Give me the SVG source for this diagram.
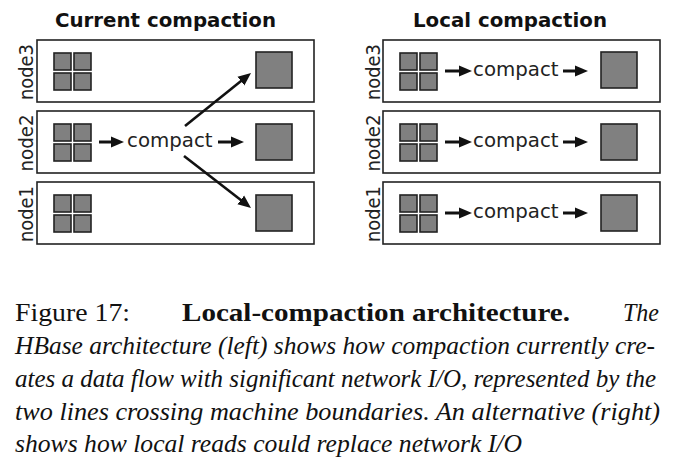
<svg xmlns="http://www.w3.org/2000/svg" width="673" height="470" viewBox="0 0 673 470">
<style>
.row{fill:#fff;stroke:#222;stroke-width:1.6}
.sq{fill:#808080;stroke:#222;stroke-width:1.6}
.lbl{font-family:"DejaVu Sans",sans-serif;font-size:20px;fill:#222;text-anchor:middle}
.title{font-family:"DejaVu Sans",sans-serif;font-weight:bold;font-size:19.8px;fill:#111}
.cmp{font-family:"DejaVu Sans",sans-serif;font-size:19.8px;fill:#222}
.arr{stroke:#111;stroke-width:3;fill:none;marker-end:url(#ah)}
.darr{stroke:#111;stroke-width:2.6;fill:none;marker-end:url(#ah)}
.cap{font-family:"Liberation Serif","Times New Roman",serif;font-size:25.5px;fill:#111}
.it{font-style:italic}
</style>
<defs>
<marker id="ah" markerUnits="userSpaceOnUse" markerWidth="13" markerHeight="12" viewBox="0 0 13 12" refX="5" refY="6" orient="auto">
<path d="M0,0.5 L13,6 L0,11.5 z" fill="#111"/>
</marker>
<g id="grid4">
<rect class="sq" x="0" y="0" width="17" height="17"/>
<rect class="sq" x="20" y="0" width="17" height="17"/>
<rect class="sq" x="0" y="20" width="17" height="17"/>
<rect class="sq" x="20" y="20" width="17" height="17"/>
</g>
</defs>
<rect width="673" height="470" fill="#fff"/>

<text class="title" x="55" y="27">Current compaction</text>
<text class="title" x="413" y="27">Local compaction</text>

<!-- Left panel -->
<g id="L-node3">
<rect class="row" x="37" y="40" width="277" height="62"/>
<text class="lbl" transform="translate(33,72) rotate(-90)" textLength="56" lengthAdjust="spacingAndGlyphs">node3</text>
<use href="#grid4" x="54" y="53"/>
<rect class="sq" x="256" y="52" width="36" height="36"/>
</g>
<g id="L-node2">
<rect class="row" x="37" y="111" width="277" height="62"/>
<text class="lbl" transform="translate(33,143) rotate(-90)" textLength="57" lengthAdjust="spacingAndGlyphs">node2</text>
<use href="#grid4" x="54" y="124"/>
<text class="cmp" x="127" y="147">compact</text>
<rect class="sq" x="256" y="124" width="36" height="36"/>
</g>
<g id="L-node1">
<rect class="row" x="37" y="182" width="277" height="62"/>
<text class="lbl" transform="translate(33,214) rotate(-90)" textLength="56" lengthAdjust="spacingAndGlyphs">node1</text>
<use href="#grid4" x="54" y="195"/>
<rect class="sq" x="256" y="195" width="36" height="36"/>
</g>

<!-- Right panel -->
<g id="R-node3">
<rect class="row" x="383" y="40" width="277" height="62"/>
<text class="lbl" transform="translate(380,72) rotate(-90)" textLength="56" lengthAdjust="spacingAndGlyphs">node3</text>
<use href="#grid4" x="400" y="53"/>
<text class="cmp" x="473" y="76">compact</text>
<rect class="sq" x="601" y="52" width="36" height="36"/>
</g>
<g id="R-node2">
<rect class="row" x="383" y="111" width="277" height="62"/>
<text class="lbl" transform="translate(380,143) rotate(-90)" textLength="57" lengthAdjust="spacingAndGlyphs">node2</text>
<use href="#grid4" x="400" y="124"/>
<text class="cmp" x="473" y="147">compact</text>
<rect class="sq" x="601" y="124" width="36" height="36"/>
</g>
<g id="R-node1">
<rect class="row" x="383" y="182" width="277" height="62"/>
<text class="lbl" transform="translate(380,214) rotate(-90)" textLength="56" lengthAdjust="spacingAndGlyphs">node1</text>
<use href="#grid4" x="400" y="195"/>
<text class="cmp" x="473" y="218">compact</text>
<rect class="sq" x="601" y="195" width="36" height="36"/>
</g>

<g id="connectors">
<line class="arr" x1="99" y1="142" x2="116" y2="142"/>
<line class="arr" x1="218" y1="142" x2="236" y2="142"/>
<line class="darr" x1="185" y1="126" x2="244.8" y2="78"/>
<line class="darr" x1="184" y1="156" x2="244.7" y2="203"/>
<line class="arr" x1="445" y1="71" x2="464" y2="71"/>
<line class="arr" x1="563" y1="71" x2="580" y2="71"/>
<line class="arr" x1="445" y1="142" x2="464" y2="142"/>
<line class="arr" x1="563" y1="142" x2="580" y2="142"/>
<line class="arr" x1="445" y1="213" x2="464" y2="213"/>
<line class="arr" x1="563" y1="213" x2="580" y2="213"/>
</g>

<!-- Caption -->
<text class="cap" x="15" y="321" textLength="115" lengthAdjust="spacingAndGlyphs">Figure 17:</text>
<text class="cap" x="182" y="321" font-weight="bold" textLength="388" lengthAdjust="spacingAndGlyphs">Local-compaction architecture.</text>
<text class="cap it" x="623" y="321" textLength="36" lengthAdjust="spacingAndGlyphs">The</text>
<text class="cap it" x="15" y="354" textLength="640" lengthAdjust="spacingAndGlyphs">HBase architecture (left) shows how compaction currently cre-</text>
<text class="cap it" x="15" y="387" textLength="641" lengthAdjust="spacingAndGlyphs">ates a data flow with significant network I/O, represented by the</text>
<text class="cap it" x="15" y="420" textLength="645" lengthAdjust="spacingAndGlyphs">two lines crossing machine boundaries.  An alternative (right)</text>
<text class="cap it" x="15" y="452" textLength="507" lengthAdjust="spacingAndGlyphs">shows how local reads could replace network I/O</text>
</svg>
